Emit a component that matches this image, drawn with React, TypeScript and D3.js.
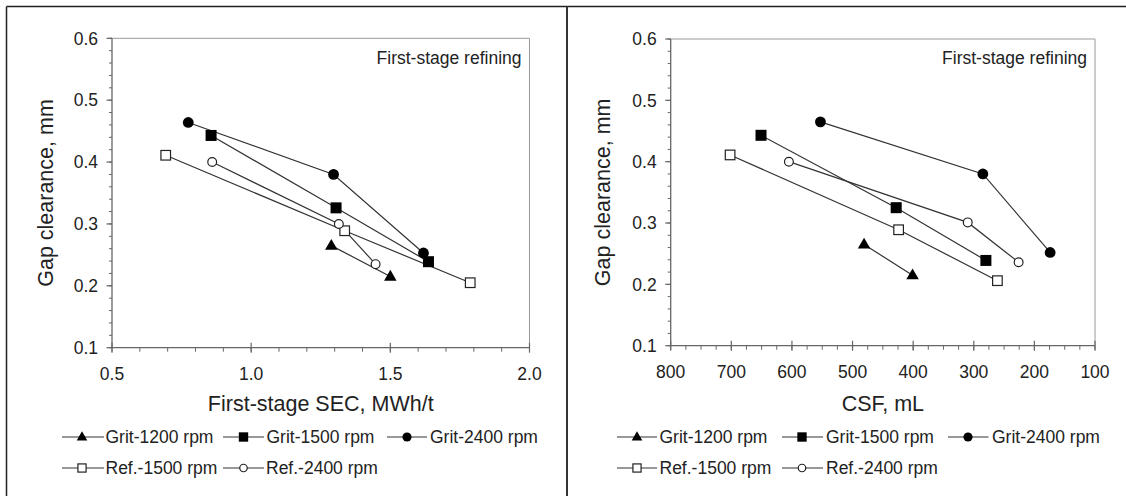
import React from "react";
import * as d3 from "d3";

// ---------- data ----------
const seriesNames = ["Grit-1200 rpm", "Grit-1500 rpm", "Grit-2400 rpm", "Ref.-1500 rpm", "Ref.-2400 rpm"];
const seriesMarkers = ["triangle", "square", "circle", "openSquare", "openCircle"];

// Left panel: First-stage SEC (MWh/t) vs gap clearance (mm)
const secGrit1200 = [1.288, 1.5];
const secGrit1500 = [0.856, 1.305, 1.637];
const secGrit2400 = [0.774, 1.296, 1.619];
const secRef1500 = [0.693, 1.336, 1.787];
const secRef2400 = [0.86, 1.315, 1.447];
const gapLeftGrit1200 = [0.265, 0.215];
const gapLeftGrit1500 = [0.443, 0.326, 0.239];
const gapLeftGrit2400 = [0.464, 0.38, 0.253];
const gapLeftRef1500 = [0.411, 0.289, 0.205];
const gapLeftRef2400 = [0.4, 0.3, 0.235];

// Right panel: CSF (mL) vs gap clearance (mm)
const csfGrit1200 = [481, 401];
const csfGrit1500 = [651, 428, 280];
const csfGrit2400 = [553, 285, 174];
const csfRef1500 = [702, 424, 261];
const csfRef2400 = [605, 310, 226];
const gapRightGrit1200 = [0.265, 0.215];
const gapRightGrit1500 = [0.443, 0.325, 0.239];
const gapRightGrit2400 = [0.465, 0.38, 0.252];
const gapRightRef1500 = [0.411, 0.289, 0.206];
const gapRightRef2400 = [0.4, 0.301, 0.236];

const yMajorTicks = [0.1, 0.2, 0.3, 0.4, 0.5, 0.6];
const secMajorTicks = [0.5, 1.0, 1.5, 2.0];
const csfMajorTicks = [800, 700, 600, 500, 400, 300, 200, 100];

const annotation = "First-stage refining";
const leftXTitle = "First-stage SEC, MWh/t";
const rightXTitle = "CSF, mL";
const yTitle = "Gap clearance, mm";

const leftX = [secGrit1200, secGrit1500, secGrit2400, secRef1500, secRef2400];
const leftY = [gapLeftGrit1200, gapLeftGrit1500, gapLeftGrit2400, gapLeftRef1500, gapLeftRef2400];
const rightX = [csfGrit1200, csfGrit1500, csfGrit2400, csfRef1500, csfRef2400];
const rightY = [gapRightGrit1200, gapRightGrit1500, gapRightGrit2400, gapRightRef1500, gapRightRef2400];

const FONT = "'Liberation Sans', Arial, Helvetica, sans-serif";
const TXT = "#222";

function Marker({ kind, x, y, legend }: { kind: string; x: number; y: number; legend?: boolean }) {
  const k = legend ? 0.85 : 1;
  if (kind === "triangle") {
    const side = 12.5 * k;
    const d = d3.symbol().type(d3.symbolTriangle).size((Math.sqrt(3) / 4) * side * side)();
    return <path d={d || ""} transform={`translate(${x},${y + 0.5})`} fill="#000" />;
  }
  if (kind === "square") {
    const s = 11 * k;
    return <rect x={x - s / 2} y={y - s / 2} width={s} height={s} fill="#000" />;
  }
  if (kind === "circle") {
    return <circle cx={x} cy={y} r={5.4 * k} fill="#000" />;
  }
  if (kind === "openSquare") {
    const s = 9.6 * k;
    return <rect x={x - s / 2} y={y - s / 2} width={s} height={s} fill="#fff" stroke="#222" strokeWidth={1.2} />;
  }
  return <circle cx={x} cy={y} r={4.4 * k} fill="#fff" stroke="#222" strokeWidth={1.2} />;
}

type PanelProps = {
  xScale: d3.ScaleLinear<number, number>;
  yScale: d3.ScaleLinear<number, number>;
  xs: number[][];
  ys: number[][];
  xMajor: number[];
  xMinorStep: number;
  xFmt: (v: number) => string;
  xTitle: string;
  yTitleX: number;
  legend: { line: [number, number]; marker: number; text: number; y: number }[];
};

function Panel({ xScale, yScale, xs, ys, xMajor, xMinorStep, xFmt, xTitle, yTitleX, legend }: PanelProps) {
  const [x0, x1] = xScale.range();
  const [y0, y1] = yScale.range(); // y0 bottom, y1 top
  const xd = xScale.domain();
  const lo = Math.min(xd[0], xd[1]);
  const hi = Math.max(xd[0], xd[1]);
  const xMinor = d3.range(lo, hi + xMinorStep / 2, xMinorStep);
  const yMinor = d3.range(0.1, 0.6 + 0.01, 0.02);
  const fmtY = d3.format(".1f");
  const line = d3.line<[number, number]>().x((d) => xScale(d[0])).y((d) => yScale(d[1]));
  const cx = (x0 + x1) / 2;
  const cy = (y0 + y1) / 2;
  return (
    <g>
      {/* frame */}
      <line x1={x0} y1={y1} x2={x1} y2={y1} stroke="#9a9a9a" strokeWidth={1} />
      <line x1={x1} y1={y1} x2={x1} y2={y0} stroke="#9a9a9a" strokeWidth={1} />
      {/* y axis */}
      <line x1={x0} y1={y1} x2={x0} y2={y0} stroke="#666" strokeWidth={1.3} />
      {yMinor.map((v, i) => (
        <line key={"ym" + i} x1={x0 - 3} x2={x0} y1={yScale(v)} y2={yScale(v)} stroke="#666" strokeWidth={1} />
      ))}
      {yMajorTicks.map((v) => (
        <g key={"yM" + v}>
          <line x1={x0 - 5.5} x2={x0} y1={yScale(v)} y2={yScale(v)} stroke="#666" strokeWidth={1.2} />
          <text x={x0 - 14} y={yScale(v)} dy="0.36em" textAnchor="end" fontSize={17.5} fill={TXT} fontFamily={FONT}>
            {fmtY(v)}
          </text>
        </g>
      ))}
      {/* x axis */}
      <line x1={x0} y1={y0} x2={x1} y2={y0} stroke="#666" strokeWidth={1.3} />
      {xMinor.map((v, i) => (
        <line key={"xm" + i} x1={xScale(v)} x2={xScale(v)} y1={y0} y2={y0 + 4} stroke="#666" strokeWidth={1} />
      ))}
      {xMajor.map((v) => (
        <g key={"xM" + v}>
          <line x1={xScale(v)} x2={xScale(v)} y1={y0 - 5} y2={y0 + 5} stroke="#666" strokeWidth={1.2} />
          <text x={xScale(v)} y={y0 + 32} textAnchor="middle" fontSize={17.5} fill={TXT} fontFamily={FONT}>
            {xFmt(v)}
          </text>
        </g>
      ))}
      {/* titles */}
      <text x={cx} y={411} textAnchor="middle" fontSize={21.5} fill={TXT} fontFamily={FONT}>
        {xTitle}
      </text>
      <text
        transform={`translate(${yTitleX},${cy}) rotate(-90)`}
        textAnchor="middle"
        fontSize={21.5}
        fill={TXT}
        fontFamily={FONT}
      >
        {yTitle}
      </text>
      <text x={x1 - 8} y={63.5} textAnchor="end" fontSize={17.5} fill={TXT} fontFamily={FONT}>
        {annotation}
      </text>
      {/* series lines */}
      {xs.map((arr, si) => (
        <path
          key={"l" + si}
          d={line(arr.map((v, i) => [v, ys[si][i]] as [number, number])) || ""}
          fill="none"
          stroke="#333"
          strokeWidth={1.2}
        />
      ))}
      {/* markers */}
      {xs.map((arr, si) =>
        arr.map((v, i) => (
          <Marker key={"m" + si + "-" + i} kind={seriesMarkers[si]} x={xScale(v)} y={yScale(ys[si][i])} />
        ))
      )}
      {/* legend */}
      {legend.map((e, si) => (
        <g key={"lg" + si}>
          <line x1={e.line[0]} x2={e.line[1]} y1={e.y} y2={e.y} stroke="#333" strokeWidth={1.2} />
          <Marker kind={seriesMarkers[si]} x={e.marker} y={e.y} legend />
          <text x={e.text} y={e.y} dy="0.36em" fontSize={17.5} fill={TXT} fontFamily={FONT}>
            {seriesNames[si]}
          </text>
        </g>
      ))}
    </g>
  );
}

export default function App() {
  const lx = d3.scaleLinear().domain([0.5, 2.0]).range([112, 529.5]);
  const ly = d3.scaleLinear().domain([0.1, 0.6]).range([347.7, 38.3]);
  const rx = d3.scaleLinear().domain([800, 100]).range([670.7, 1095]);
  const ry = d3.scaleLinear().domain([0.1, 0.6]).range([345.7, 39]);

  const r1 = 437;
  const r2 = 468;
  const leftLegend = [
    { line: [62, 104] as [number, number], marker: 82, text: 105.5, y: r1 },
    { line: [223, 264] as [number, number], marker: 243.5, text: 266.5, y: r1 },
    { line: [387, 427] as [number, number], marker: 407, text: 430, y: r1 },
    { line: [62, 104] as [number, number], marker: 82, text: 105.5, y: r2 },
    { line: [223, 264] as [number, number], marker: 243.5, text: 266, y: r2 },
  ];
  const rightLegend = [
    { line: [617, 657] as [number, number], marker: 637, text: 659.5, y: r1 },
    { line: [782, 823] as [number, number], marker: 802, text: 826, y: r1 },
    { line: [948, 988.5] as [number, number], marker: 968, text: 992, y: r1 },
    { line: [617, 657] as [number, number], marker: 637, text: 659.5, y: r2 },
    { line: [782, 823] as [number, number], marker: 802, text: 826, y: r2 },
  ];

  return (
    <svg
      width={1126}
      height={496}
      viewBox="0 0 1126 496"
      style={{ position: "absolute", left: 0, top: 0, background: "#fff" }}
    >
      <rect x={0} y={0} width={1126} height={496} fill="#fff" />
      {/* outer frame */}
      <line x1={6.5} y1={6.5} x2={1126} y2={6.5} stroke="#222" strokeWidth={1.5} />
      <line x1={6.5} y1={6.5} x2={6.5} y2={496} stroke="#222" strokeWidth={1.5} />
      <line x1={567} y1={6.5} x2={567} y2={496} stroke="#333" strokeWidth={2} />
      <Panel
        xScale={lx}
        yScale={ly}
        xs={leftX}
        ys={leftY}
        xMajor={secMajorTicks}
        xMinorStep={0.1}
        xFmt={d3.format(".1f")}
        xTitle={leftXTitle}
        yTitleX={53}
        legend={leftLegend}
      />
      <Panel
        xScale={rx}
        yScale={ry}
        xs={rightX}
        ys={rightY}
        xMajor={csfMajorTicks}
        xMinorStep={25}
        xFmt={d3.format("d")}
        xTitle={rightXTitle}
        yTitleX={610}
        legend={rightLegend}
      />
    </svg>
  );
}
